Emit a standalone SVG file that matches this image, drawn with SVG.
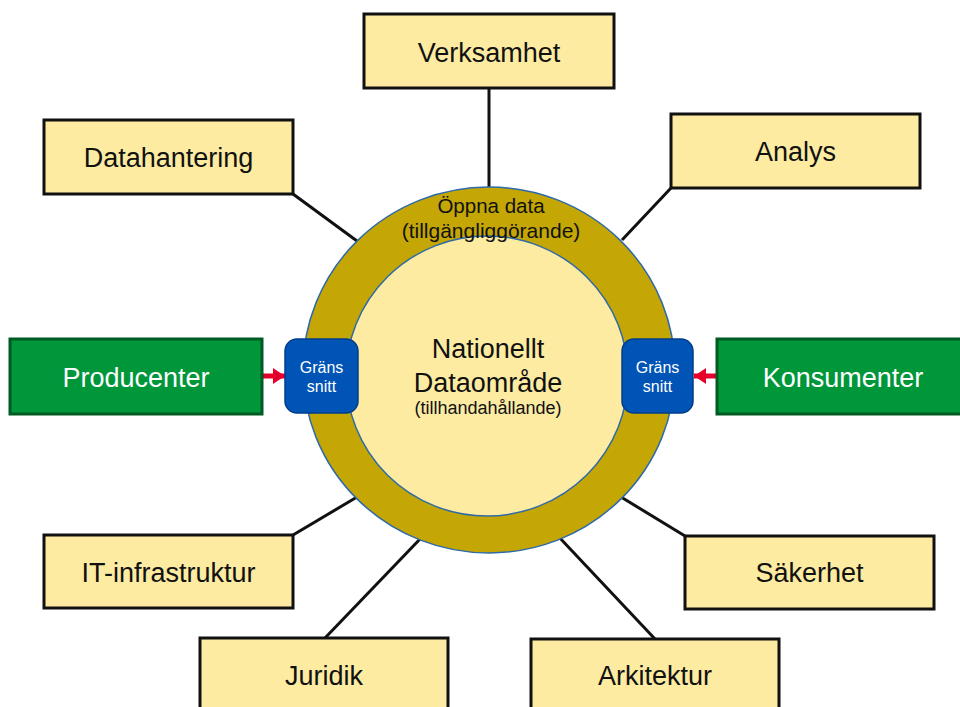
<svg xmlns="http://www.w3.org/2000/svg" width="960" height="707" viewBox="0 0 960 707">
<style>
.box{fill:#FCEBA1;stroke:#111;stroke-width:3}
.lbl{font-family:"Liberation Sans",Arial,sans-serif;font-size:27px;fill:#111;text-anchor:middle}
.wlbl{font-family:"Liberation Sans",Arial,sans-serif;font-size:27px;fill:#fff;text-anchor:middle}
.green{fill:#00963A;stroke:#005A22;stroke-width:3}
.blue{fill:#0054B6;stroke:#003D8C;stroke-width:1.5}
.small{font-family:"Liberation Sans",Arial,sans-serif;font-size:16px;fill:#fff;text-anchor:middle}
.conn{stroke:#111;stroke-width:3;fill:none}
.ctr{font-family:"Liberation Sans",Arial,sans-serif;fill:#111;text-anchor:middle}
.arrow{stroke:#E4002B;stroke-width:5;fill:none}
</style>
<defs>
<marker id="ah" markerUnits="userSpaceOnUse" markerWidth="13" markerHeight="16" refX="12" refY="8" orient="auto">
<path d="M0,0 L12,8 L0,16 Z" fill="#E4002B"/>
</marker>
</defs>
<rect width="960" height="707" fill="#fff"/>
<g id="connectors">
<line class="conn" x1="489" y1="88" x2="489" y2="190"/>
<line class="conn" x1="293" y1="194" x2="357" y2="241"/>
<line class="conn" x1="671" y1="188" x2="622" y2="240"/>
<line class="conn" x1="293" y1="535" x2="357" y2="497"/>
<line class="conn" x1="685" y1="536" x2="621" y2="497"/>
<line class="conn" x1="325" y1="638" x2="421" y2="538"/>
<line class="conn" x1="655" y1="639" x2="558" y2="536"/>
<line class="arrow" x1="261" y1="376" x2="285" y2="376" marker-end="url(#ah)"/>
<line class="arrow" x1="718" y1="376" x2="694" y2="376" marker-end="url(#ah)"/>
</g>
<g id="oppna-data">
<ellipse cx="489" cy="370" rx="186" ry="183" fill="#C4A704" stroke="#2E6AA8" stroke-width="1.5"/>
</g>
<g id="nationellt-dataomrade">
<ellipse cx="487" cy="376" rx="141" ry="140" fill="#FCEBA1" stroke="#2E6AA8" stroke-width="1.5"/>
<text class="ctr" x="488" y="358" font-size="27">Nationellt</text>
<text class="ctr" x="488" y="392" font-size="27">Dataområde</text>
<text class="ctr" x="488" y="414" font-size="18">(tillhandahållande)</text>
</g>
<g id="oppna-data-label">
<text class="ctr" x="491" y="213" font-size="20.5">Öppna data</text>
<text class="ctr" x="491" y="238" font-size="21">(tillgängliggörande)</text>
</g>
<g id="grans-vanster">
<rect class="blue" x="285" y="339" width="73" height="74" rx="12"/>
<text class="small" x="321.5" y="373">Gräns</text>
<text class="small" x="321.5" y="392">snitt</text>
</g>
<g id="grans-hoger">
<rect class="blue" x="622" y="339" width="71" height="74" rx="12"/>
<text class="small" x="657.5" y="373">Gräns</text>
<text class="small" x="657.5" y="392">snitt</text>
</g>
<g id="verksamhet">
<rect class="box" x="364" y="14" width="250" height="74"/>
<text class="lbl" x="489" y="62">Verksamhet</text>
</g>
<g id="datahantering">
<rect class="box" x="44" y="120" width="249" height="74"/>
<text class="lbl" x="168.5" y="167">Datahantering</text>
</g>
<g id="analys">
<rect class="box" x="671" y="114" width="249" height="74"/>
<text class="lbl" x="795.5" y="161">Analys</text>
</g>
<g id="producenter">
<rect class="green" x="10" y="339" width="252" height="75"/>
<text class="wlbl" x="136" y="387">Producenter</text>
</g>
<g id="konsumenter">
<rect class="green" x="717" y="339" width="250" height="75"/>
<text class="wlbl" x="843" y="387">Konsumenter</text>
</g>
<g id="it-infrastruktur">
<rect class="box" x="44" y="535" width="249" height="73"/>
<text class="lbl" x="168.5" y="582">IT-infrastruktur</text>
</g>
<g id="sakerhet">
<rect class="box" x="685" y="536" width="249" height="73"/>
<text class="lbl" x="809.5" y="582">Säkerhet</text>
</g>
<g id="juridik">
<rect class="box" x="200" y="638" width="248" height="76"/>
<text class="lbl" x="324" y="685">Juridik</text>
</g>
<g id="arkitektur">
<rect class="box" x="531" y="639" width="248" height="76"/>
<text class="lbl" x="655" y="685">Arkitektur</text>
</g>
</svg>
